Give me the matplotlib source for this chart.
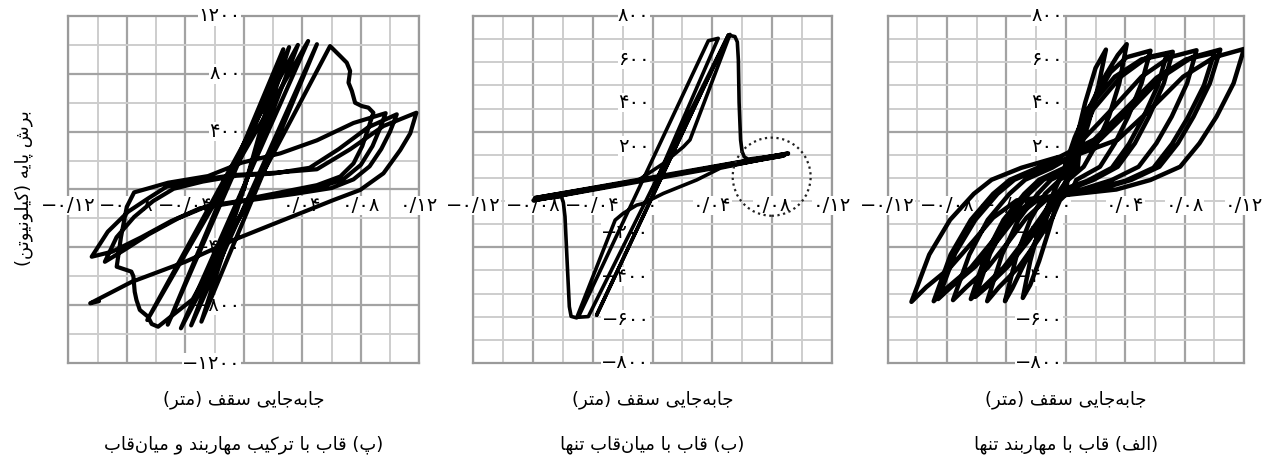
import numpy as np
import matplotlib
matplotlib.use("Agg")
import matplotlib.pyplot as plt
from matplotlib.patches import Ellipse

plt.rcParams['font.family'] = ['DejaVu Sans']

# --- data -------------------------------------------------------------
# (c) braced frame + infill: base shear (kN) vs roof displacement (m)
combo_x = [0.000, 0.027, -0.052, 0.031, -0.029, 0.050, -0.036, 0.037, -0.066, 0.044, -0.043, 0.059,
           0.0659, 0.0704, 0.0727, 0.0716, 0.0739, 0.0761, 0.0807, 0.0852, 0.0886,
           0.085, 0.081, 0.075, 0.066, 0.050, 0.030, 0.005,
           -0.015, -0.035, -0.0586,
           -0.063, -0.0655, -0.0711, -0.0734, -0.0746, -0.0755, -0.0769, -0.0869,
           -0.084, -0.080, -0.075, -0.0517, -0.0244, -0.0016,
           0.025, 0.050, 0.075, 0.097,
           0.093, 0.088, 0.080, 0.068, 0.050, 0.025, 0.000, -0.025,
           -0.045, -0.065, -0.082, -0.095,
           -0.087, -0.075, -0.062, -0.048, -0.028, -0.005,
           0.020, 0.045, 0.065, 0.085, 0.1046,
           0.100, 0.094, 0.086, 0.075, 0.060, 0.035, 0.000, -0.030,
           -0.050, -0.070, -0.090, -0.104,
           -0.093, -0.079, -0.065, -0.0527, -0.030, -0.007, 0.020, 0.050, 0.0727, 0.0955, 0.118,
           0.1138, 0.107, 0.0955, 0.0796, 0.0613, 0.0385, 0.0157, -0.007, -0.040, -0.0769,
           -0.105, -0.099]
combo_y = [0, 970, -935, 985, -914, 1005, -940, 1000, -903, 1027, -960, 992,
           923, 877, 820, 739, 681, 600, 577, 566, 531,
           420, 300, 180, 90, 30, -10, -60,
           -400, -760, -949,
           -930, -880, -833, -764, -707, -600, -568, -534,
           -330, -120, -20, 47, 93, 185,
           250, 340, 460, 528,
           420, 300, 170, 70, 10, -35, -75, -115,
           -200, -310, -420, -500,
           -330, -190, -80, 5, 55, 95,
           110, 150, 280, 430, 520,
           400, 280, 160, 70, 10, -30, -80, -130,
           -220, -330, -430, -465,
           -292, -153, -59, 20, 66, 100, 115, 140, 278, 439, 531,
           388, 273, 112, -3, -73, -165, -257, -349, -500, -640,
           -787, -772]

# (b) infill only
infill_x = [0.000, 0.044, 0.0374, -0.0497, -0.043, 0.0508, -0.0374, 0.0508,
            0.0552, 0.0568, 0.0575, 0.058, 0.059, 0.060, 0.0615, 0.064, 0.091,
            0.0453, 0.0296, 0.0073, -0.0061, -0.0106, -0.0196, -0.025,
            -0.0508, -0.0545, -0.0557, -0.057, -0.0586, -0.0597, -0.061, -0.0798,
            0.091, -0.079, 0.088, -0.0798, -0.0106,
            0.0073, 0.0207, 0.0251, 0.0519]
infill_y = [0, 697, 686, -589, -586, 712, -579, 712,
            705, 680, 597, 400, 228, 175, 150, 140, 164,
            98, 44, -18, -64, -72, -110, -141,
            -592, -585, -540, -356, -125, -60, -33, -48,
            168, -38, 155, -52, 38,
            120, 197, 229, 715]

# (a) braced frame only
brace_x = [0.000,
           0.006, 0.013, 0.020, 0.027, 0.022, 0.015, 0.008, 0.000,
           -0.006, -0.012, -0.018, -0.024, -0.029, -0.024, -0.018, -0.010, -0.002,
           0.006, 0.016, 0.027, 0.035, 0.041, 0.036, 0.029, 0.021, 0.012, 0.000,
           -0.008, -0.014, -0.022, -0.030, -0.036, -0.041, -0.033, -0.024, -0.014, -0.004, 0.008,
           0.010, 0.020, 0.030, 0.041, 0.057, 0.051, 0.042, 0.033, 0.023, 0.007, 0.005,
           -0.004, -0.009, -0.019, -0.032, -0.045, -0.053, -0.043, -0.032, -0.019, -0.010, 0.006,
           0.010, 0.0185, 0.037, 0.055, 0.072, 0.066, 0.056, 0.0465, 0.035, 0.0185, 0.002,
           -0.008, -0.017, -0.028, -0.042, -0.0555, -0.064, -0.054, -0.042, -0.028, -0.018, -0.001,
           0.006, 0.0145, 0.033, 0.051, 0.068, 0.062, 0.052, 0.0425, 0.031, 0.0145, -0.002,
           -0.005, -0.014, -0.025, -0.039, -0.0525, -0.061, -0.051, -0.039, -0.025, -0.015, 0.002,
           0.0115, 0.031, 0.051, 0.070, 0.088, 0.0817, 0.0713, 0.061, 0.049, 0.031, 0.0106,
           -0.012, -0.0265, -0.038, -0.0526, -0.067, -0.076, -0.065, -0.0526, -0.038, -0.0274, -0.0094,
           0.023, 0.044, 0.065, 0.085, 0.104, 0.097, 0.086, 0.0755, 0.063, 0.044, 0.022,
           -0.0215, -0.037, -0.049, -0.064, -0.0795, -0.089, -0.0776, -0.064, -0.049, -0.0377, -0.019,
           0.019, 0.040, 0.061, 0.081, 0.100, 0.093, 0.082, 0.0715, 0.059, 0.040, 0.018,
           -0.0185, -0.034, -0.046, -0.061, -0.0765, -0.086, -0.0746, -0.061, -0.046, -0.0347, -0.016,
           0.035, 0.057, 0.079, 0.100, 0.120, 0.113, 0.1015, 0.090, 0.077, 0.057, 0.034,
           -0.033, -0.049, -0.062, -0.078, -0.094, -0.104, -0.092, -0.078, -0.062, -0.050, -0.030, -0.005]
brace_y = [0,
           200, 400, 560, 645, 480, 300, 150, 40,
           -60, -200, -330, -440, -500, -330, -180, -40, 80,
           200, 380, 530, 620, 670, 490, 336, 213, 105, 35,
           -40, -150, -260, -370, -455, -515, -300, -140, -20, 45, 100,
           250, 420, 540, 610, 640, 490, 336, 213, 105, 44, 10,
           -50, -130, -235, -360, -450, -515, -300, -140, -20, 45, 100,
           240, 370, 520, 610, 635, 490, 336, 213, 105, 44, 0,
           -40, -130, -235, -360, -450, -505, -300, -140, -20, 45, 100,
           240, 370, 520, 600, 625, 480, 330, 210, 100, 40, 0,
           -40, -130, -235, -355, -445, -495, -295, -140, -20, 45, 100,
           230, 370, 520, 610, 642, 490, 336, 213, 105, 44, 0,
           -40, -130, -235, -360, -450, -510, -300, -140, -20, 45, 100,
           230, 370, 520, 610, 645, 490, 336, 213, 105, 44, 0,
           -45, -130, -235, -360, -450, -515, -300, -140, -20, 45, 100,
           230, 370, 515, 600, 630, 480, 330, 210, 100, 40, 0,
           -45, -130, -235, -355, -445, -505, -295, -140, -20, 45, 100,
           230, 370, 520, 610, 648, 490, 336, 213, 105, 44, 0,
           -50, -130, -235, -360, -450, -518, -300, -140, -20, 45, 100, 150]

x_ticks = [-0.12, -0.08, -0.04, 0.0, 0.04, 0.08, 0.12]
x_labels = ['-0.12', '-0.08', '-0.04', '0', '0.04', '0.08', '0.12']
y_ticks_combo = [1200, 800, 400, -400, -800, -1200]
y_ticks_single = [800, 600, 400, 200, -200, -400, -600, -800]

xlabel_fa = 'جابه\u200cجایی سقف (متر)'
ylabel_fa = 'برش پایه (کیلونیوتن)'
titles_fa = ['(پ) قاب با ترکیب مهاربند و میان\u200cقاب',
             '(ب) قاب با میان\u200cقاب تنها',
             '(الف) قاب با مهاربند تنها']

# --- minimal Persian shaping (matplotlib has no complex text layout) ----
FORMS = {
    'ا': ('\uFE8D', '\uFE8E', None, None),
    'ب': ('\uFE8F', '\uFE90', '\uFE91', '\uFE92'),
    'پ': ('\uFB56', '\uFB57', '\uFB58', '\uFB59'),
    'ت': ('\uFE95', '\uFE96', '\uFE97', '\uFE98'),
    'ج': ('\uFE9D', '\uFE9E', '\uFE9F', '\uFEA0'),
    'د': ('\uFEA9', '\uFEAA', None, None),
    'ر': ('\uFEAD', '\uFEAE', None, None),
    'س': ('\uFEB1', '\uFEB2', '\uFEB3', '\uFEB4'),
    'ش': ('\uFEB5', '\uFEB6', '\uFEB7', '\uFEB8'),
    'ف': ('\uFED1', '\uFED2', '\uFED3', '\uFED4'),
    'ق': ('\uFED5', '\uFED6', '\uFED7', '\uFED8'),
    'ک': ('\uFB8E', '\uFB8F', '\uFB90', '\uFB91'),
    'ل': ('\uFEDD', '\uFEDE', '\uFEDF', '\uFEE0'),
    'م': ('\uFEE1', '\uFEE2', '\uFEE3', '\uFEE4'),
    'ن': ('\uFEE5', '\uFEE6', '\uFEE7', '\uFEE8'),
    'ه': ('\uFEE9', '\uFEEA', '\uFEEB', '\uFEEC'),
    'و': ('\uFEED', '\uFEEE', None, None),
    'ی': ('\uFBFC', '\uFBFD', '\uFBFE', '\uFBFF'),
}
MIRROR = {'(': ')', ')': '('}


def fa_text(s):
    out = []
    for i, ch in enumerate(s):
        if ch not in FORMS:
            if ch != '\u200c':
                out.append(MIRROR.get(ch, ch))
            continue
        prev = s[i - 1] if i > 0 else ''
        nxt = s[i + 1] if i < len(s) - 1 else ''
        iso, fin, ini, med = FORMS[ch]
        jp = prev in FORMS and FORMS[prev][2] is not None
        jn = nxt in FORMS and ini is not None
        if jp and jn:
            out.append(med)
        elif jp:
            out.append(fin)
        elif jn:
            out.append(ini)
        else:
            out.append(iso)
    return ''.join(reversed(out))


def fa_num(s):
    return s.translate(str.maketrans('0123456789.-', '۰۱۲۳۴۵۶۷۸۹/−'))


def draw_grid(ax, ylim, nrows, dark_rows):
    for i, x in enumerate(np.linspace(-0.12, 0.12, 13)):
        dark = i % 2 == 0
        ax.axvline(x, color='#a3a3a3' if dark else '#cdcdcd', lw=1.6 if dark else 1.4, zorder=1)
    for j, y in enumerate(np.linspace(-ylim, ylim, nrows + 1)):
        dark = j in dark_rows
        ax.axhline(y, color='#a3a3a3' if dark else '#cdcdcd', lw=1.6 if dark else 1.4, zorder=1)
    for sp in ax.spines.values():
        sp.set_color('#9a9a9a')
        sp.set_linewidth(1.6)


def draw_ticks(ax, yticks):
    box = dict(fc='white', ec='none', pad=0.2)
    for x, lbl in zip(x_ticks, x_labels):
        ax.annotate(fa_num(lbl), xy=(x, 0), xytext=(0, -16), textcoords='offset pixels',
                    ha='center', va='center', fontsize=14, bbox=box, zorder=3,
                    annotation_clip=False)
    for v in yticks:
        ax.annotate(fa_num(str(v)), xy=(0, v), xytext=(-3, 0), textcoords='offset pixels',
                    ha='right', va='center', fontsize=14, bbox=box, zorder=3,
                    annotation_clip=False)


fig = plt.figure(figsize=(12.62, 4.61), dpi=100)
W, H = 1262, 461
boxes = [(68.3, 351.0), (473.3, 358.4), (887.7, 356.3)]
axes = [fig.add_axes([l / W, 1 - 363 / H, w / W, 347 / H]) for l, w in boxes]

series = [(combo_x, combo_y, 1200, 12, {2, 4, 6, 8, 10}, y_ticks_combo, 3.0),
          (infill_x, infill_y, 800, 15, {5, 10}, y_ticks_single, 2.6),
          (brace_x, brace_y, 800, 15, {5, 10}, y_ticks_single, 3.2)]

for ax, (xs, ys, ylim, nrows, dark_rows, yt, lw) in zip(axes, series):
    ax.set_xlim(-0.12, 0.12)
    ax.set_ylim(-ylim, ylim)
    ax.set_xticks([])
    ax.set_yticks([])
    draw_grid(ax, ylim, nrows, dark_rows)
    draw_ticks(ax, yt)
    ax.plot(xs, ys, color='black', lw=lw, solid_joinstyle='round',
            solid_capstyle='round', zorder=4)

# dotted marker around the residual branch of the infill-only frame
axes[1].add_patch(Ellipse((0.0798, 59), 0.0522, 360, fill=False, ls=(0, (1, 1.6)),
                          lw=1.6, ec='#222222', zorder=5))

for ax, (l, w), t in zip(axes, boxes, titles_fa):
    cx = (l + w / 2) / W
    fig.text(cx, 1 - 400 / H, fa_text(xlabel_fa), ha='center', va='center', fontsize=13)
    fig.text(cx, 1 - 445 / H, fa_text(t), ha='center', va='center', fontsize=13)

fig.text(24 / W, 1 - 188 / H, fa_text(ylabel_fa), rotation=90, ha='center', va='center',
         fontsize=13)

fig.savefig('out.png', dpi=100)
